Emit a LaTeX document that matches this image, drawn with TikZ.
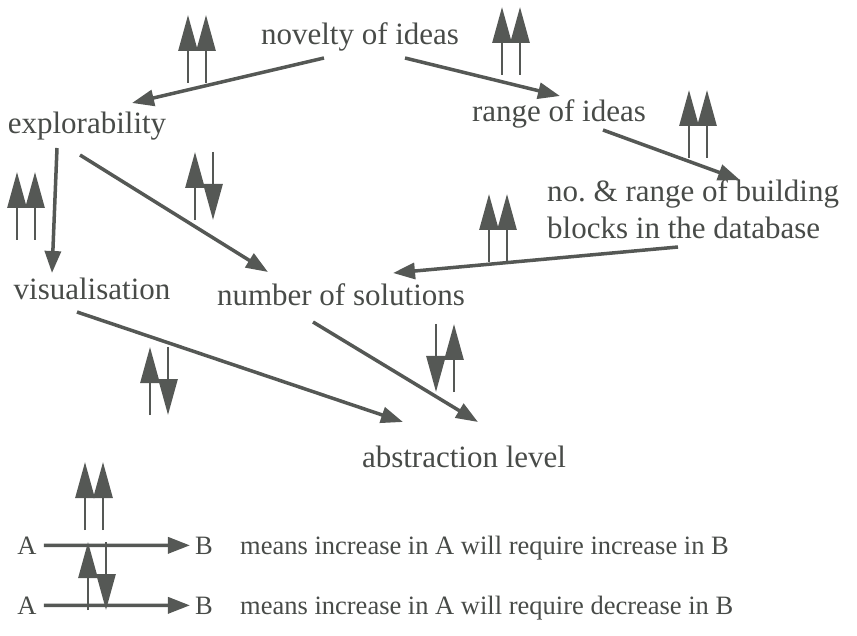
\documentclass[tikz,border=0pt]{standalone}
\usepackage{fontspec}
\setmainfont{Liberation Serif}
\usetikzlibrary{arrows.meta}
\definecolor{ink}{RGB}{85,88,85}
\definecolor{letters}{RGB}{72,75,72}

\tikzset{
	lbl/.style={inner sep=0pt, anchor=base, text=letters, font=\fontsize{31}{37}\selectfont},
	key/.style={inner sep=0pt, anchor=base, text=letters, font=\fontsize{26.5}{30}\selectfont},
	link/.style={draw=ink, line width=3.5pt, -{Triangle[length=22pt,width=16pt]}},
	tick/.style={draw=ink, line width=2.8pt, -{Triangle[length=36pt,width=19pt]}},
	upup/.pic={\draw[tick] (-9,34) -- (-9,-34); \draw[tick] (9,34) -- (9,-34);},
	updown/.pic={\draw[tick] (-9,34) -- (-9,-34); \draw[tick] (9,-34) -- (9,34);},
	downup/.pic={\draw[tick] (-9,-34) -- (-9,34); \draw[tick] (9,34) -- (9,-34);}
}

\begin{document}
\begin{tikzpicture}[x=1pt, y=-1pt]
	\useasboundingbox (0,0) rectangle (857,636);
	% factors
	\node[lbl] (nov) at (360,45) {novelty of ideas};
	\node[lbl] (expl) at (87,134) {explorability};
	\node[lbl] (rng) at (559,122) {range of ideas};
	\node[lbl, anchor=north west, align=left] (blk) at (547,179) {no.\ \& range of building\\blocks in the database};
	\node[lbl] (vis) at (92,300) {visualisation};
	\node[lbl] (num) at (341,306) {number of solutions};
	\node[lbl] (abs) at (464,467) {abstraction level};
	% influences
	\draw[link] ([shift={(-36,13)}]nov.base) -- ([shift={(45,-31)}]expl.base);
	\draw[link] ([shift={(45,13)}]nov.base) -- ([shift={(1,-26)}]rng.base);
	\draw[link] ([shift={(44,8)}]rng.base) -- ([shift={(193,1)}]blk.north west);
	\draw[link] ([shift={(131,68)}]blk.north west) -- ([shift={(52,-33)}]num.base);
	\draw[link] ([shift={(-30,14)}]expl.base) -- ([shift={(-40,-27)}]vis.base);
	\draw[link] ([shift={(-7,21)}]expl.base) -- ([shift={(-73,-34)}]num.base);
	\draw[link] ([shift={(-15,12)}]vis.base) -- ([shift={(-61,-45)}]abs.base);
	\draw[link] ([shift={(-28,16)}]num.base) -- ([shift={(14,-45)}]abs.base);
	% signs
	\pic at (197,49) {upup};
	\pic at (511,41) {upup};
	\pic at (698,124) {upup};
	\pic at (498,228) {upup};
	\pic at (26,206) {upup};
	\pic at (204,186) {updown};
	\pic at (159,381) {updown};
	\pic at (445,358) {downup};
	% legend
	\node[key, inner xsep=7pt] (a1) at (27,554) {A};
	\node[key, inner xsep=5pt] (b1) at (204,554) {B};
	\draw[link] (a1.east) -- (b1.west);
	\node[key, anchor=base west] (t1) at (240,554) {means increase in A will require increase in B};
	\pic at (94,496) {upup};
	\node[key, inner xsep=7pt] (a2) at (27,614) {A};
	\node[key, inner xsep=5pt] (b2) at (204,614) {B};
	\draw[link] (a2.east) -- (b2.west);
	\node[key, anchor=base west] (t2) at (240,614) {means increase in A will require decrease in B};
	\pic at (97,576) {updown};
\end{tikzpicture}
\end{document}
